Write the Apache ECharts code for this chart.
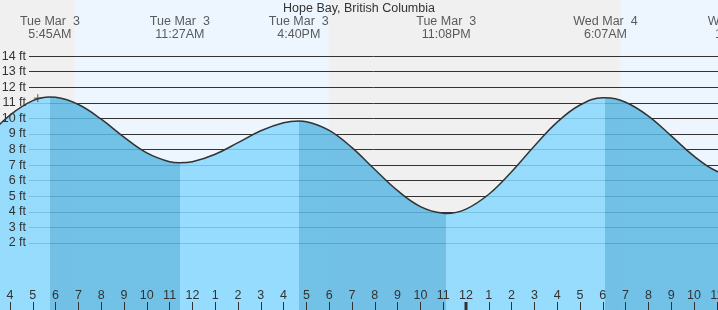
<!DOCTYPE html>
<html><head><meta charset="utf-8">
<script src="https://cdn.jsdelivr.net/npm/echarts@6/dist/echarts.min.js"></script>
<style>html,body{margin:0;padding:0;background:#f0f0f0}#c{width:718px;height:310px}</style>
</head><body><div id="c"></div>
<script>
// ---- data (hours counted from Tue Mar 3, 00:00) ----
const chartTitle = 'Hope Bay, British Columbia';
const tideHours = [5.75, 11.45, 16.667, 23.133, 30.117, 36.02];
const tideKinds = ['H', 'L', 'H', 'L', 'H', 'L'];
const tideDates = ['Tue Mar  3', 'Tue Mar  3', 'Tue Mar  3', 'Tue Mar  3', 'Wed Mar  4', 'Wed Mar  4'];
const tideClock = ['5:45AM', '11:27AM', '4:40PM', '11:08PM', '6:07AM', '12:01PM'];
const levelHours = [3, 4, 5, 5.75, 6, 7, 8, 9, 10, 11, 11.45, 12, 13, 14, 15, 16, 16.667, 17, 18, 19, 20, 21, 22, 23, 23.133, 24, 25, 26, 27, 28, 29, 30, 30.117, 31, 32, 33, 34, 35, 36];
const levelFeet = [8.80, 10.21, 11.14, 11.37, 11.35, 10.89, 9.95, 8.80, 7.79, 7.22, 7.15, 7.22, 7.70, 8.44, 9.21, 9.72, 9.83, 9.79, 9.23, 8.12, 6.72, 5.36, 4.34, 3.91, 3.90, 4.18, 5.13, 6.58, 8.23, 9.76, 10.86, 11.32, 11.32, 11.04, 10.15, 8.88, 7.58, 6.61, 6.25];
const sunriseHours = [6.84, 30.79];
const sunsetHours = [17.98, 42.0];
const hourTicks = [4, 5, 6, 7, 8, 9, 10, 11, 12, 13, 14, 15, 16, 17, 18, 19, 20, 21, 22, 23, 24, 25, 26, 27, 28, 29, 30, 31, 32, 33, 34, 35];
const hourLabels = ['4', '5', '6', '7', '8', '9', '10', '11', '12', '1', '2', '3', '4', '5', '6', '7', '8', '9', '10', '11', '12', '1', '2', '3', '4', '5', '6', '7', '8', '9', '10', '11'];
const midnightTicks = [24];
const feetMin = 2, feetMax = 14;
const nowMark = [5.22, 11.3];

// ---- layout / style ----
const FONT = 'Liberation Sans';
const TXT = '#333';
const X_MIN = 3.5614, X_MAX = 35.0526;
const Y_MIN = -2.298, Y_MAX = 17.599;
const LIGHT = 'rgb(134,216,254)', DARK = 'rgb(92,184,227)';
const DAY = '#edf6fe';

const pieces = [];
pieces.push({ lt: tideHours[0], color: tideKinds[0] === 'H' ? LIGHT : DARK });
for (let i = 0; i < tideHours.length; i++) {
  const p = { gte: tideHours[i], color: tideKinds[i] === 'H' ? DARK : LIGHT };
  if (i < tideHours.length - 1) p.lt = tideHours[i + 1];
  pieces.push(p);
}
const levelData = levelHours.map((h, i) => [h, levelFeet[i]]);

const chart = echarts.init(document.getElementById('c'), null, { renderer: 'canvas' });
chart.setOption({
  animation: false,
  backgroundColor: '#f0f0f0',
  title: {
    text: chartTitle, left: 'center', top: 2, padding: 0,
    textStyle: { fontFamily: FONT, fontSize: 12.5, fontWeight: 'normal', color: TXT, lineHeight: 13 }
  },
  grid: [
    { left: 0, right: 0, top: 0, bottom: 0, containLabel: false, outerBoundsMode: 'none' },
    { left: 29, right: 0, top: 56.08, bottom: 66.96, containLabel: false, outerBoundsMode: 'none' }
  ],
  xAxis: [
    {
      type: 'value', gridIndex: 0, min: X_MIN, max: X_MAX, z: 5, position: 'bottom',
      axisLine: { show: false, onZero: false }, splitLine: { show: false },
      axisTick: { show: true, inside: true, length: 8, customValues: hourTicks, lineStyle: { color: TXT, width: 1 } },
      axisLabel: {
        show: true, inside: true, margin: 8, customValues: hourTicks,
        formatter: v => hourLabels[hourTicks.indexOf(Math.round(v))],
        color: TXT, fontFamily: FONT, fontSize: 12.5
      }
    },
    { type: 'value', gridIndex: 1, min: 0, max: 1, show: false }
  ],
  yAxis: [
    { type: 'value', gridIndex: 0, min: Y_MIN, max: Y_MAX, show: false },
    {
      type: 'value', gridIndex: 1, min: feetMin, max: feetMax, interval: 1, z: 1, position: 'left',
      axisLine: { show: false }, axisTick: { show: false }, axisLabel: { show: false },
      splitLine: { show: true, lineStyle: { color: TXT, width: 1 } }
    },
    {
      type: 'value', gridIndex: 1, min: feetMin, max: feetMax, interval: 1, z: 6, position: 'left',
      axisLine: { show: false }, axisTick: { show: false }, splitLine: { show: false },
      axisLabel: { show: true, margin: 3, formatter: '{value} ft', color: TXT, fontFamily: FONT, fontSize: 12.5 }
    }
  ],
  visualMap: {
    type: 'piecewise', show: false, dimension: 0, seriesIndex: 1, pieces: pieces
  },
  series: [
    {
      type: 'custom', xAxisIndex: 0, yAxisIndex: 0, z: 0, silent: true, clip: true,
      encode: { x: [0, 1], y: 2 },
      data: sunriseHours.map((r, i) => [r, sunsetHours[i], 0]),
      renderItem: function (params, api) {
        const s = api.coord([api.value(0), Y_MAX]);
        const e = api.coord([api.value(1), Y_MIN]);
        return { type: 'rect', shape: { x: s[0], y: s[1], width: e[0] - s[0], height: e[1] - s[1] }, style: { fill: DAY } };
      }
    },
    {
      type: 'line', xAxisIndex: 0, yAxisIndex: 0, z: 2, data: levelData,
      smooth: 0.4, symbol: 'none', silent: true,
      lineStyle: { width: 0, opacity: 0 },
      areaStyle: { opacity: 0.85, origin: 'start' }
    },
    {
      type: 'line', xAxisIndex: 0, yAxisIndex: 0, z: 3, data: levelData,
      smooth: 0.4, symbol: 'none', silent: true,
      lineStyle: { width: 1.5, color: TXT }
    },
    {
      type: 'scatter', xAxisIndex: 0, yAxisIndex: 0, z: 7, clip: false, silent: true,
      symbol: 'path://M0,4L8,4M4,0L4,8', symbolSize: 8,
      itemStyle: { color: 'transparent', borderColor: TXT, borderWidth: 1 },
      data: [nowMark]
    },
    {
      type: 'scatter', xAxisIndex: 0, yAxisIndex: 0, z: 7, clip: false, silent: true,
      symbolSize: 1, itemStyle: { color: 'transparent' },
      data: tideHours.map(h => [h, Y_MAX]),
      label: {
        show: true, position: 'bottom', distance: 15,
        formatter: p => tideDates[p.dataIndex] + '\n' + tideClock[p.dataIndex],
        color: TXT, fontFamily: FONT, fontSize: 12.5, lineHeight: 12.7, align: 'center'
      }
    },
    {
      type: 'custom', xAxisIndex: 0, yAxisIndex: 0, z: 6, silent: true, clip: false,
      encode: { x: 0, y: 1 },
      data: midnightTicks.map(h => [h, Y_MIN]),
      renderItem: function (params, api) {
        const p = api.coord([api.value(0), api.value(1)]);
        return { type: 'rect', shape: { x: Math.round(p[0]) - 1.5, y: p[1] - 8, width: 3, height: 8 }, style: { fill: TXT } };
      }
    }
  ]
});
</script>
</body></html>
